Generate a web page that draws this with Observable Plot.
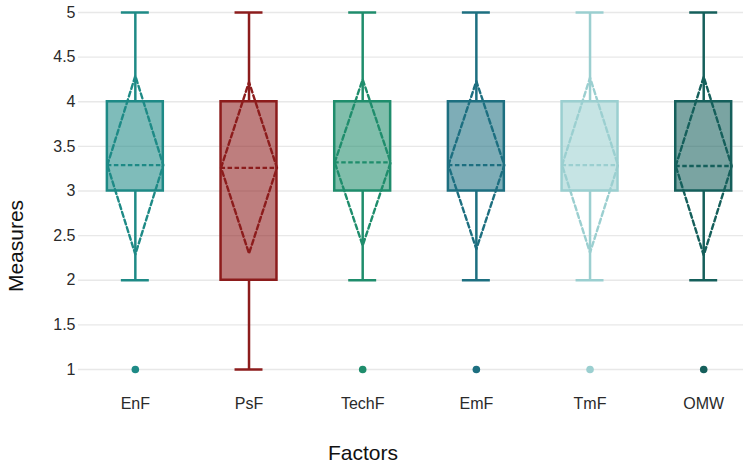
<!DOCTYPE html>
<html>
<head>
<meta charset="utf-8">
<script src="https://cdn.jsdelivr.net/npm/d3@7"></script>
<script src="https://cdn.jsdelivr.net/npm/@observablehq/plot@0.6"></script>
<style>
  html, body { margin: 0; padding: 0; background: #fff; overflow: hidden; }
  #chart svg { display: block; }
</style>
</head>
<body>
<div id="chart"></div>
<script>
const categories = ["EnF", "PsF", "TechF", "EmF", "TmF", "OMW"];
const q1Vals = [3, 2, 3, 3, 3, 3];
const q3Vals = [4, 4, 4, 4, 4, 4];
const whiskerLow = [2, 1, 2, 2, 2, 2];
const whiskerHigh = [5, 5, 5, 5, 5, 5];
const meanVals = [3.29, 3.26, 3.32, 3.29, 3.29, 3.28];
const sdVals = [1.0, 0.96, 0.93, 0.94, 0.98, 1.0];
const outlierCats = ["EnF", "TechF", "EmF", "TmF", "OMW"];
const outlierVals = [1, 1, 1, 1, 1];
const strokeColors = ["#1e8a86", "#8c1c1c", "#1f8d6c", "#1d6f80", "#9bcfd0", "#155f5b"];
const yTicks = [1, 1.5, 2, 2.5, 3, 3.5, 4, 4.5, 5];

const boxHalf = 0.246;
const capHalf = 0.123;

const data = categories.map((c, i) => ({
  cat: c, i,
  q1: q1Vals[i], q3: q3Vals[i],
  lo: whiskerLow[i], hi: whiskerHigh[i],
  mean: meanVals[i], sd: sdVals[i],
  color: strokeColors[i]
}));

const diamond = data.flatMap(d => [
  {cat: d.cat, x: d.i - boxHalf, y: d.mean, color: d.color},
  {cat: d.cat, x: d.i, y: d.mean + d.sd, color: d.color},
  {cat: d.cat, x: d.i + boxHalf, y: d.mean, color: d.color},
  {cat: d.cat, x: d.i, y: d.mean - d.sd, color: d.color},
  {cat: d.cat, x: d.i - boxHalf, y: d.mean, color: d.color}
]);

const outliers = outlierCats.map((c, k) => {
  const i = categories.indexOf(c);
  return {i, y: outlierVals[k], color: strokeColors[i]};
});

const chart = Plot.plot({
  width: 743,
  height: 468,
  marginLeft: 78,
  marginRight: 0,
  marginTop: 12,
  marginBottom: 99,
  style: {fontFamily: "'Liberation Sans', Arial, sans-serif", background: "#fff"},
  color: {type: "identity"},
  x: {domain: [-0.5, 5.35], axis: null},
  y: {domain: [1, 5], axis: null},
  marks: [
    Plot.ruleY(yTicks, {stroke: "#e8e8e8", strokeWidth: 1.4}),
    Plot.axisY({ticks: yTicks, tickSize: 0, tickPadding: 3, fontSize: 16, fill: "#2a2a2a", label: null, tickFormat: d => String(d)}),
    Plot.axisX({ticks: d3.range(categories.length), tickSize: 0, tickPadding: 28, fontSize: 16, fill: "#2a2a2a", label: null, tickFormat: i => categories[i]}),
    // whiskers
    Plot.ruleX(data, {x: "i", y1: "q3", y2: "hi", stroke: "color", strokeWidth: 2.5}),
    Plot.ruleX(data, {x: "i", y1: "lo", y2: "q1", stroke: "color", strokeWidth: 2.5}),
    Plot.ruleY(data, {y: "hi", x1: d => d.i - capHalf, x2: d => d.i + capHalf, stroke: "color", strokeWidth: 2.5}),
    Plot.ruleY(data, {y: "lo", x1: d => d.i - capHalf, x2: d => d.i + capHalf, stroke: "color", strokeWidth: 2.5}),
    // boxes
    Plot.rect(data, {x1: d => d.i - boxHalf, x2: d => d.i + boxHalf, y1: "q1", y2: "q3", fill: "color", fillOpacity: 0.57, stroke: "color", strokeWidth: 2.5}),
    // mean line
    Plot.ruleY(data, {y: "mean", x1: d => d.i - boxHalf, x2: d => d.i + boxHalf, stroke: "color", strokeWidth: 2.3, strokeDasharray: "4.5,2.5"}),
    // mean ± sd diamond
    Plot.line(diamond, {x: "x", y: "y", z: "cat", stroke: "color", strokeWidth: 2.4, strokeDasharray: "5,3", curve: "linear"}),
    // outliers
    Plot.dot(outliers, {x: "i", y: "y", fill: "color", r: 3.8, stroke: null}),
    // axis titles
    Plot.text(["Measures"], {frameAnchor: "left", textAnchor: "middle", lineAnchor: "middle", dx: -62, dy: 55, rotate: -90, fontSize: 21, fill: "#111"}),
    Plot.text(["Factors"], {frameAnchor: "bottom", textAnchor: "middle", lineAnchor: "middle", dx: -48, dy: 84, fontSize: 21, fill: "#111"})
  ]
});
document.getElementById("chart").appendChild(chart);
</script>
</body>
</html>
